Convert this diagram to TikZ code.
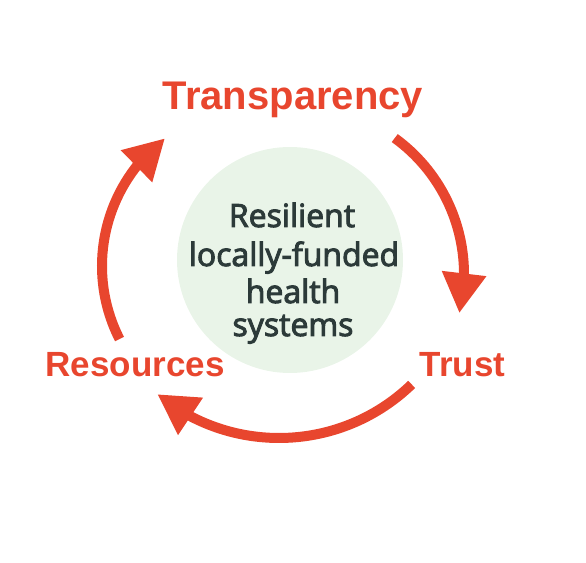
\documentclass[tikz,border=0pt]{standalone}
\usepackage{fontspec}
\setmainfont{Liberation Sans}
\newfontfamily\centerfont[FakeBold=3]{Open Sans}
\usetikzlibrary{arrows.meta,bending}
\definecolor{cycred}{RGB}{232,70,46}
\definecolor{hubgreen}{RGB}{233,244,232}
\definecolor{hubtext}{RGB}{44,58,57}
\tikzset{
  cyc/.style={draw=cycred, line width=10pt, -{Triangle[length=40pt,width=42pt]}},
  lab/.style={text=cycred, font=\bfseries\fontsize{35}{41}\selectfont, anchor=base, inner sep=0pt},
  hubline/.style={text=hubtext, font=\centerfont\fontsize{32}{38}\selectfont, anchor=base, inner sep=0pt}
}
\begin{document}
\begin{tikzpicture}[x=1pt,y=1pt]
\useasboundingbox (0,0) rectangle (586,562);
% hub
\node[circle, fill=hubgreen, minimum size=226pt, inner sep=0pt] (hub) at (290,302) {};
\node[hubline] (l1) at (292,335) {Resilient};
\node[hubline] (l2) at (294,296) {locally-funded};
\node[hubline] (l3) at (293,259) {health};
\node[hubline] (l4) at (293,226) {systems};
% labels
\node[lab, font=\bfseries\fontsize{40}{47}\selectfont] (tr) at (293,452) {Transparency};
\node[lab] (tu) at (462.5,185) {Trust};
\node[lab] (re) at (135,185) {Resources};
% arc centres
\coordinate (cl) at (263,296);
\coordinate (cr) at (296,288);
\coordinate (cb) at (279,315);
% cycle arrows
\draw[cyc] ([shift={(54:168)}]cr) arc[start angle=54, end angle=-13.5, radius=168];
\draw[cyc] ([shift={(-46:191)}]cb) arc[start angle=-46, end angle=-129.6, radius=191];
\draw[cyc] ([shift={(207:161)}]cl) arc[start angle=207, end angle=127.5, radius=161];
\end{tikzpicture}
\end{document}
